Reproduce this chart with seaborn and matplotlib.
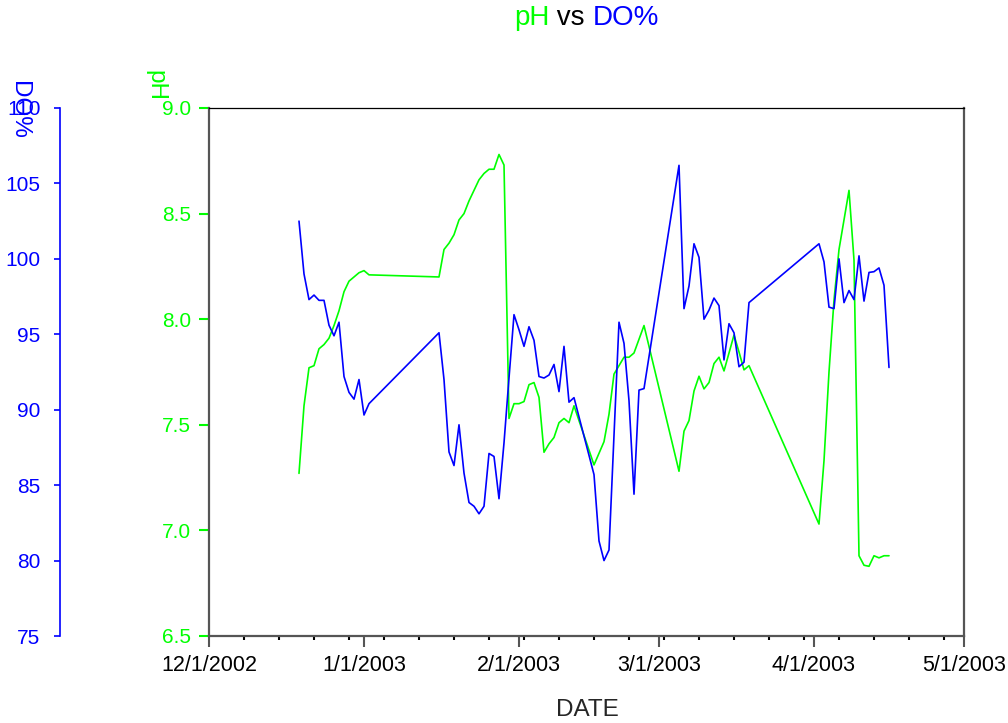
import pandas as pd
import numpy as np
import matplotlib
matplotlib.use("Agg")
import matplotlib.pyplot as plt
import matplotlib.dates as mdates
from matplotlib.ticker import FormatStrFormatter, FuncFormatter
import seaborn as sns

# sampling dates (daily, with gaps)
dates = [
    "2002-12-19", "2002-12-20", "2002-12-21", "2002-12-22", "2002-12-23",
    "2002-12-24", "2002-12-25", "2002-12-26", "2002-12-27", "2002-12-28",
    "2002-12-29", "2002-12-30", "2002-12-31", "2003-01-01", "2003-01-02",
    "2003-01-16", "2003-01-17", "2003-01-18", "2003-01-19", "2003-01-20",
    "2003-01-21", "2003-01-22", "2003-01-23", "2003-01-24", "2003-01-25",
    "2003-01-26", "2003-01-27", "2003-01-28", "2003-01-29", "2003-01-30",
    "2003-01-31", "2003-02-01", "2003-02-02", "2003-02-03", "2003-02-04",
    "2003-02-05", "2003-02-06", "2003-02-07", "2003-02-08", "2003-02-09",
    "2003-02-10", "2003-02-11", "2003-02-12",
    "2003-02-16", "2003-02-17", "2003-02-18", "2003-02-19", "2003-02-20",
    "2003-02-21", "2003-02-22", "2003-02-23", "2003-02-24", "2003-02-25",
    "2003-02-26",
    "2003-03-05", "2003-03-06", "2003-03-07", "2003-03-08", "2003-03-09",
    "2003-03-10", "2003-03-11", "2003-03-12", "2003-03-13", "2003-03-14",
    "2003-03-15", "2003-03-16", "2003-03-17", "2003-03-18", "2003-03-19",
    "2003-04-02", "2003-04-03", "2003-04-04", "2003-04-05", "2003-04-06",
    "2003-04-07", "2003-04-08", "2003-04-09", "2003-04-10", "2003-04-11",
    "2003-04-12", "2003-04-13", "2003-04-14", "2003-04-15", "2003-04-16",
]

ph = [
    7.27, 7.59, 7.77, 7.78, 7.86, 7.88, 7.91, 7.97, 8.04, 8.13,
    8.18, 8.20, 8.22, 8.23, 8.21,
    8.20, 8.33, 8.36, 8.40, 8.47, 8.50, 8.56, 8.61, 8.66, 8.69,
    8.71, 8.71, 8.78, 8.73, 7.53, 7.60, 7.60, 7.61, 7.69, 7.70,
    7.63, 7.37, 7.41, 7.44, 7.51, 7.53, 7.51, 7.59,
    7.31, 7.365, 7.42, 7.55, 7.74, 7.78, 7.82, 7.82, 7.84, 7.905, 7.97,
    7.28, 7.47, 7.52, 7.66, 7.73, 7.67, 7.70, 7.79, 7.82, 7.755,
    7.84, 7.925, 7.845, 7.76, 7.78,
    7.03, 7.33, 7.75, 8.09, 8.33, 8.47, 8.61, 8.28, 6.88, 6.835,
    6.83, 6.88, 6.87, 6.88, 6.88,
]

do_pct = [
    102.5, 99.0, 97.3, 97.6, 97.25, 97.25, 95.6, 94.9, 95.8, 92.2,
    91.15, 90.7, 92.0, 89.65, 90.4,
    95.1, 92.0, 87.2, 86.3, 89.0, 85.8, 83.85, 83.6, 83.1, 83.6,
    87.1, 86.9, 84.1, 87.8, 92.1, 96.3, 95.3, 94.2, 95.5, 94.6,
    92.2, 92.1, 92.3, 93.0, 91.2, 94.2, 90.5, 90.8,
    85.7, 81.3, 80.0, 80.7, 88.3, 95.8, 94.4, 90.6, 84.4, 91.3, 91.4,
    106.2, 96.7, 98.2, 101.0, 100.1, 96.0, 96.6, 97.4, 96.9, 93.3,
    95.7, 95.1, 92.85, 93.15, 97.1,
    101.0, 99.8, 96.8, 96.7, 100.0, 97.1, 97.9, 97.3, 100.2, 97.2,
    99.1, 99.15, 99.4, 98.25, 92.8,
]

ph_ticks = [6.5, 7.0, 7.5, 8.0, 8.5, 9.0]
do_ticks = [75, 80, 85, 90, 95, 100, 105, 110]
x_ticks = ["2002-12-01", "2003-01-01", "2003-02-01", "2003-03-01", "2003-04-01", "2003-05-01"]

GREEN = "#00ff00"
BLUE = "#0000ff"
SPINE = "#555555"

sns.set_style("white")
plt.rcParams['font.family'] = ['Liberation Sans', 'DejaVu Sans']

df = pd.DataFrame({"DATE": pd.to_datetime(dates), "pH": ph, "DO": do_pct})

fig = plt.figure(figsize=(10.08, 7.23), dpi=100)
ax = fig.add_axes([209 / 1008, 1 - 636 / 723, 755 / 1008, 528 / 723])
ax2 = ax.twinx()

sns.lineplot(data=df, x="DATE", y="pH", ax=ax, color=GREEN, linewidth=1.2)
sns.lineplot(data=df, x="DATE", y="DO", ax=ax2, color=BLUE, linewidth=1.2)


def us_date(v, pos):
    d = mdates.num2date(v)
    return "{}/{}/{}".format(d.month, d.day, d.year)


# x axis
ax.set_xlim(pd.Timestamp(x_ticks[0]), pd.Timestamp(x_ticks[-1]))
ax.set_xticks(pd.to_datetime(x_ticks))
ax.xaxis.set_major_formatter(FuncFormatter(us_date))
ax.xaxis.set_minor_locator(mdates.WeekdayLocator(byweekday=mdates.SU))
ax.tick_params(axis="x", which="major", direction="out", length=8, width=1.5,
               color=SPINE, labelsize=15.5, labelcolor="black", pad=6, bottom=True)
ax.tick_params(axis="x", which="minor", direction="out", length=3, width=1.5,
               color="black", bottom=True)
ax.set_xlabel("")
fig.text(587 / 1008, 1 - 710 / 723, "DATE", fontsize=17.5, ha="center", va="center")

# pH axis
ax.set_ylim(6.5, 9.0)
ax.set_yticks(ph_ticks)
ax.yaxis.set_major_formatter(FormatStrFormatter("%.1f"))
ax.tick_params(axis="y", direction="out", length=7, width=1.5, color=GREEN,
               labelcolor=GREEN, labelsize=15, pad=6, left=True, right=False)
ax.set_ylabel("")
fig.text(155 / 1008, 1 - 86 / 723, "pH", color=GREEN, fontsize=17.5,
         rotation=270, ha="center", va="center")

for side in ["left", "right", "bottom"]:
    ax.spines[side].set_color(SPINE)
    ax.spines[side].set_linewidth(1.6)
ax.spines["top"].set_color("black")
ax.spines["top"].set_linewidth(0.9)

# DO% axis, moved to the far left
ax2.set_ylim(75, 110)
ax2.set_yticks(do_ticks)
ax2.yaxis.set_ticks_position("left")
ax2.spines["left"].set_position(("axes", (60 - 209) / 755))
ax2.spines["left"].set_visible(True)
ax2.spines["left"].set_color(BLUE)
ax2.spines["left"].set_linewidth(1.2)
for side in ["right", "top", "bottom"]:
    ax2.spines[side].set_visible(False)
ax2.tick_params(axis="y", direction="out", length=4, width=1.2, color=BLUE,
                labelcolor=BLUE, labelsize=15, pad=10, left=True, right=False,
                labelleft=True, labelright=False)
ax2.set_ylabel("")
fig.text(19 / 1008, 1 - 110 / 723, "DO%", color=BLUE, fontsize=17.5,
         rotation=270, ha="center", va="center")

# multi-coloured title
ty = 1 - 18 / 723
t1 = fig.text(0, ty, "pH", color=GREEN, fontsize=20, va="center", ha="left")
t2 = ax.annotate(" vs ", xy=(1, 0), xycoords=t1, va="bottom", ha="left",
                 fontsize=20, color="black")
t3 = ax.annotate("DO%", xy=(1, 0), xycoords=t2, va="bottom", ha="left",
                 fontsize=20, color=BLUE)
fig.canvas.draw()
r = fig.canvas.get_renderer()
w = t3.get_window_extent(r).x1 - t1.get_window_extent(r).x0
t1.set_x((586.5 - w / 2) / 1008)

fig.savefig("out.png", dpi=100)
